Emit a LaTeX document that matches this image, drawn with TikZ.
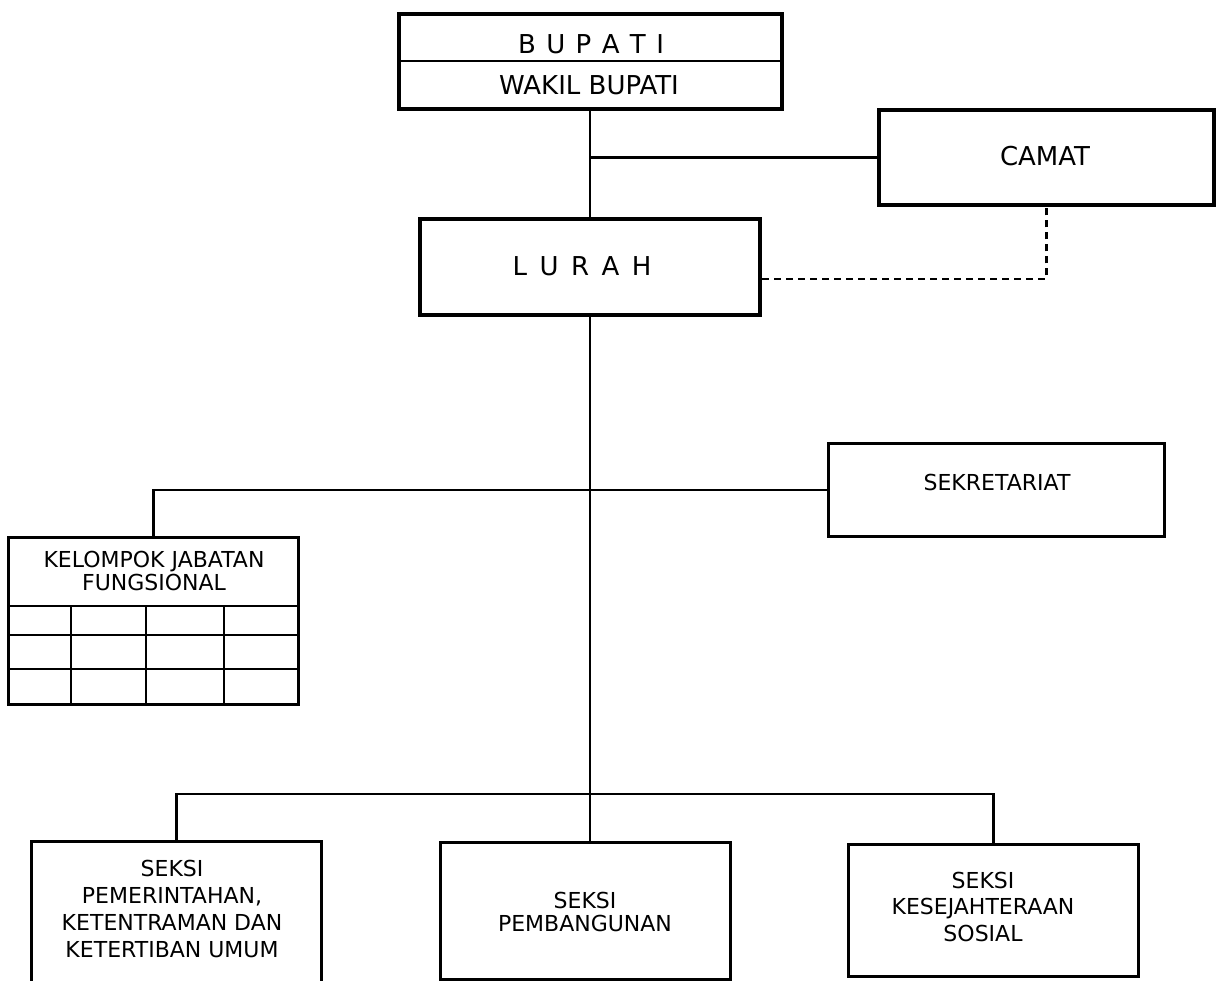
\documentclass[tikz,border=0pt]{standalone}
\usepackage{fontspec}
\setmainfont{DejaVu Sans}
\begin{document}
\begin{tikzpicture}[x=1pt,y=-1pt,
  thickbox/.style={draw, line width=4pt, inner sep=0pt, anchor=north west},
  thinbox/.style={draw, line width=2.8pt, inner sep=0pt, anchor=north west},
  grid line/.style={line width=2.6pt},
  conn/.style={line width=2.3pt},
  dconn/.style={line width=2.3pt, dash pattern=on 7pt off 5pt},
  bigtxt/.style={inner sep=0pt, font=\fontsize{26}{30}\selectfont},
  smalltxt/.style={inner sep=0pt, align=center, font=\fontsize{22}{23}\selectfont}]
\useasboundingbox (0,0) rectangle (1218,981);
% boxes
\node[thickbox, minimum width=383pt, minimum height=95pt] (bupati) at (397,12) {};
\draw[grid line] (397,61) -- (780,61);
\node[thickbox, minimum width=335pt, minimum height=95pt] (camat) at (877,108) {};
\node[thickbox, minimum width=340pt, minimum height=96pt] (lurah) at (418,217) {};
\node[thinbox, minimum width=336pt, minimum height=93pt] (sek) at (827,442) {};
\node[thinbox, minimum width=290pt, minimum height=167pt] (kel) at (7,536) {};
\draw[grid line] (7,606) -- (297,606) (7,635) -- (297,635) (7,669) -- (297,669)
  (71,606) -- (71,703) (146,606) -- (146,703) (224,606) -- (224,703);
\node[thinbox, minimum width=290pt, minimum height=180pt] (seksiA) at (30,840) {};
\node[thinbox, minimum width=290pt, minimum height=137pt] (seksiB) at (439,841) {};
\node[thinbox, minimum width=290pt, minimum height=132pt] (seksiC) at (847,843) {};
% texts
\node[bigtxt] (tBup) at (591,44) {B\hspace{0.4em}U\hspace{0.4em}P\hspace{0.4em}A\hspace{0.4em}T\hspace{0.4em}I};
\node[bigtxt] (tWak) at (589,85) {WAKIL BUPATI};
\node[bigtxt] (tCam) at (1045,156) {CAMAT};
\node[bigtxt] (tLur) at (582,266) {L\hspace{0.48em}U\hspace{0.48em}R\hspace{0.48em}A\hspace{0.48em}H};
\node[smalltxt] (tSek) at (997,482.5) {SEKRETARIAT};
\node[smalltxt] (tKel) at (154,570.5) {KELOMPOK JABATAN\\FUNGSIONAL};
\node[smalltxt, font=\fontsize{22}{27}\selectfont] (tSA) at (172,909) {SEKSI\\PEMERINTAHAN,\\KETENTRAMAN DAN\\KETERTIBAN UMUM};
\node[smalltxt] (tSB) at (585,911.5) {SEKSI\\PEMBANGUNAN};
\node[smalltxt, font=\fontsize{22}{26.5}\selectfont] (tSC) at (983,906.5) {SEKSI\\KESEJAHTERAAN\\SOSIAL};
% connectors
\draw[conn] (lurah.north |- bupati.south) -- (lurah.north);
\draw[conn] (lurah.north |- camat.west) -- (camat.west);
\draw[dconn] ([yshift=-12pt]lurah.east) -| (camat.south);
\draw[conn] (lurah.south) -- (lurah.south |- seksiB.north);
\draw[conn] (kel.north) |- (sek.west);
\coordinate (bus) at (588,794);
\draw[conn] (seksiA.north) |- (bus) -| (seksiC.north);
\end{tikzpicture}
\end{document}
